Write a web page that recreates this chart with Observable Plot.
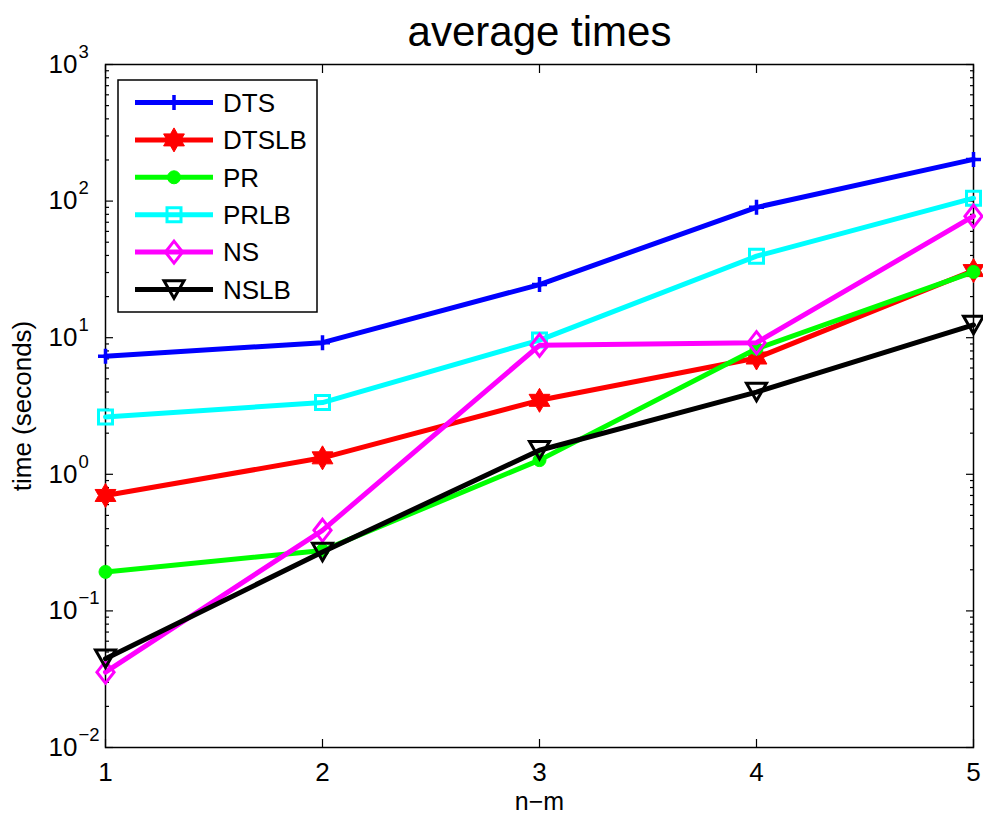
<!DOCTYPE html>
<html>
<head>
<meta charset="utf-8">
<script src="https://cdn.jsdelivr.net/npm/d3@7"></script>
<script src="https://cdn.jsdelivr.net/npm/@observablehq/plot@0.6"></script>
<style>
  body { margin: 0; background: #fff; }
  svg { font-family: "Liberation Sans", Arial, Helvetica, sans-serif; }
</style>
</head>
<body>
<div id="chart"></div>
<script>
// ---- data ----
const nm = [1, 2, 3, 4, 5];
const seriesNames = ["DTS", "DTSLB", "PR", "PRLB", "NS", "NSLB"];
const dts   = [7.3, 9.2, 24.5, 90, 202];
const dtslb = [0.70, 1.32, 3.48, 7.1, 31];
const pr    = [0.193, 0.277, 1.27, 8.3, 30.3];
const prlb  = [2.63, 3.35, 9.6, 39.5, 105];
const ns    = [0.0356, 0.389, 8.8, 9.2, 77.6];
const nslb  = [0.0447, 0.27, 1.50, 4.0, 12.4];
const seriesValues = [dts, dtslb, pr, prlb, ns, nslb];
const seriesColors = ["#0000ff", "#ff0000", "#00ff00", "#00ffff", "#ff00ff", "#000000"];

const xTicks = [1, 2, 3, 4, 5];
const yTicks = [0.01, 0.1, 1, 10, 100, 1000];
const yMinorTicks = [0.01, 0.1, 1, 10, 100].flatMap(d => [2, 3, 4, 5, 6, 7, 8, 9].map(m => d * m));

const titleText = "average times";
const xLabel = "n\u2212m";
const yLabel = "time (seconds)";

// ---- marker shapes (radius r = sqrt(size / PI)) ----
const rad = size => Math.sqrt(size / Math.PI);
const plusSym = { draw(c, s) { const r = rad(s); c.moveTo(-r, 0); c.lineTo(r, 0); c.moveTo(0, -r); c.lineTo(0, r); } };
const hexagram = { draw(c, s) {
  const r = rad(s), ri = r / Math.sqrt(3);
  for (let i = 0; i < 12; i++) {
    const a = -Math.PI / 2 + i * Math.PI / 6, rr = i % 2 ? ri : r;
    const x = rr * Math.cos(a), y = rr * Math.sin(a);
    i ? c.lineTo(x, y) : c.moveTo(x, y);
  }
  c.closePath();
} };
const circleSym = { draw(c, s) { const r = rad(s); c.moveTo(r, 0); c.arc(0, 0, r, 0, 2 * Math.PI); } };
const squareSym = { draw(c, s) { const r = rad(s); c.rect(-r, -r, 2 * r, 2 * r); } };
const diamondSym = { draw(c, s) { const r = rad(s), w = r * 0.78; c.moveTo(0, -r); c.lineTo(w, 0); c.lineTo(0, r); c.lineTo(-w, 0); c.closePath(); } };
const triDownSym = { draw(c, s) { const r = rad(s), h = r * 0.87; c.moveTo(-r, -h); c.lineTo(r, -h); c.lineTo(0, h); c.closePath(); } };

const markerStyles = [
  { symbol: plusSym,    r: 7.5, filled: false, sw: 3.5 },
  { symbol: hexagram,   r: 12,  filled: true,  sw: 1 },
  { symbol: circleSym,  r: 6.5, filled: true,  sw: 1 },
  { symbol: squareSym,  r: 7,   filled: false, sw: 3 },
  { symbol: diamondSym, r: 11,  filled: false, sw: 3 },
  { symbol: triDownSym, r: 10,  filled: false, sw: 3 }
];

// long-format table built from the arrays above
const table = seriesNames.flatMap((name, i) =>
  nm.map((x, j) => ({ series: name, nm: x, time: seriesValues[i][j] })));

const lineWidth = 5;

// each series: its line, then its markers on top
const seriesMarks = seriesNames.flatMap((name, i) => {
  const rows = table.filter(d => d.series === name);
  const st = markerStyles[i], col = seriesColors[i];
  return [
    Plot.line(rows, { x: "nm", y: "time", stroke: col, strokeWidth: lineWidth, strokeLinejoin: "miter" }),
    Plot.dot(rows, { x: "nm", y: "time", symbol: st.symbol, r: st.r,
      fill: st.filled ? col : "none", stroke: col, strokeWidth: st.sw })
  ];
});

// legend box drawn in the upper-left corner of the frame
function legendMark(index, scales, values, dim) {
  const x0 = dim.marginLeft + 13, y0 = dim.marginTop + 16;
  const g = d3.create("svg:g").attr("aria-label", "legend");
  g.append("rect").attr("x", x0).attr("y", y0).attr("width", 199).attr("height", 232)
    .attr("fill", "white").attr("stroke", "black").attr("stroke-width", 1.5);
  seriesNames.forEach((name, i) => {
    const y = y0 + 22.5 + i * 37.4, col = seriesColors[i], st = markerStyles[i];
    g.append("line").attr("x1", x0 + 17).attr("x2", x0 + 95).attr("y1", y).attr("y2", y)
      .attr("stroke", col).attr("stroke-width", lineWidth);
    g.append("path").attr("transform", `translate(${x0 + 56},${y})`)
      .attr("d", d3.symbol(st.symbol, Math.PI * st.r * st.r)())
      .attr("fill", st.filled ? col : "none").attr("stroke", col).attr("stroke-width", st.sw);
    g.append("text").attr("x", x0 + 105).attr("y", y).attr("dy", "0.36em")
      .attr("text-anchor", "start").style("font-size", "26px").attr("fill", "black").text(name);
  });
  return g.node();
}

const chart = Plot.plot({
  width: 983,
  height: 814,
  marginLeft: 105,
  marginRight: 10,
  marginTop: 64,
  marginBottom: 67,
  style: { background: "white", color: "black" },
  x: { type: "linear", domain: [1, 5] },
  y: { type: "log", domain: [0.01, 1000] },
  marks: [
    Plot.frame({ stroke: "black", strokeWidth: 1.5 }),
    // inward ticks on all four sides
    Plot.axisY(yTicks, { anchor: "left", tickSize: -8, fill: "none", label: null, strokeWidth: 1.2 }),
    Plot.axisY(yMinorTicks, { anchor: "left", tickSize: -4, fill: "none", label: null, strokeWidth: 1.2 }),
    Plot.axisY(yTicks, { anchor: "right", tickSize: -8, fill: "none", label: null, strokeWidth: 1.2 }),
    Plot.axisY(yMinorTicks, { anchor: "right", tickSize: -4, fill: "none", label: null, strokeWidth: 1.2 }),
    Plot.axisX(xTicks, { anchor: "bottom", tickSize: -8, fill: "none", label: null, strokeWidth: 1.2 }),
    Plot.axisX(xTicks, { anchor: "top", tickSize: -8, fill: "none", label: null, strokeWidth: 1.2 }),
    // tick labels
    Plot.axisY(yTicks, { anchor: "left", tickSize: 0, tickPadding: 57, textAnchor: "start",
      fontSize: 26, label: null, tickFormat: d => "10^" + Math.round(Math.log10(d)) }),
    Plot.axisX(xTicks, { anchor: "bottom", tickSize: 0, tickPadding: 15, fontSize: 26, label: null,
      tickFormat: d => String(d) }),
    ...seriesMarks,
    legendMark,
    // title and axis labels
    Plot.text([titleText], { text: d => d, frameAnchor: "top", textAnchor: "middle", lineAnchor: "middle",
      dy: -32, fontSize: 42, ariaLabel: "title" }),
    Plot.text([yLabel], { text: d => d, frameAnchor: "left", textAnchor: "middle", lineAnchor: "middle",
      dx: -83, rotate: -90, fontSize: 26, ariaLabel: "y label" }),
    Plot.text([xLabel], { text: d => d, frameAnchor: "bottom", textAnchor: "middle", lineAnchor: "middle",
      dy: 54, fontSize: 25, ariaLabel: "x label" })
  ]
});

const svg = d3.select(chart);

// explicit font sizes on each text element
const sizeText = (sel, px) => svg.selectAll(sel).attr("font-size", px).style("font-size", px + "px");
sizeText('g[aria-label="y-axis tick label"] text', 26);
sizeText('g[aria-label="x-axis tick label"] text', 26);
sizeText('g[aria-label="title"] text', 42);
sizeText('g[aria-label="y label"] text', 26);
sizeText('g[aria-label="x label"] text', 25);

// power-of-ten labels: "10" followed by a raised exponent
svg.selectAll('g[aria-label="y-axis tick label"] text').each(function () {
  const t = d3.select(this);
  const parts = t.text().split("^");
  if (parts.length !== 2) return;
  const e = +parts[1];
  t.text(parts[0]);
  t.append("tspan").attr("dy", -15).attr("dx", 1).style("font-size", "18.5px")
    .text((e < 0 ? "\u2212" : "") + Math.abs(e));
});

// slightly open tracking on the title
svg.selectAll('g[aria-label="title"] text').style("letter-spacing", "1.4px");

document.getElementById("chart").append(chart);
</script>
</body>
</html>
